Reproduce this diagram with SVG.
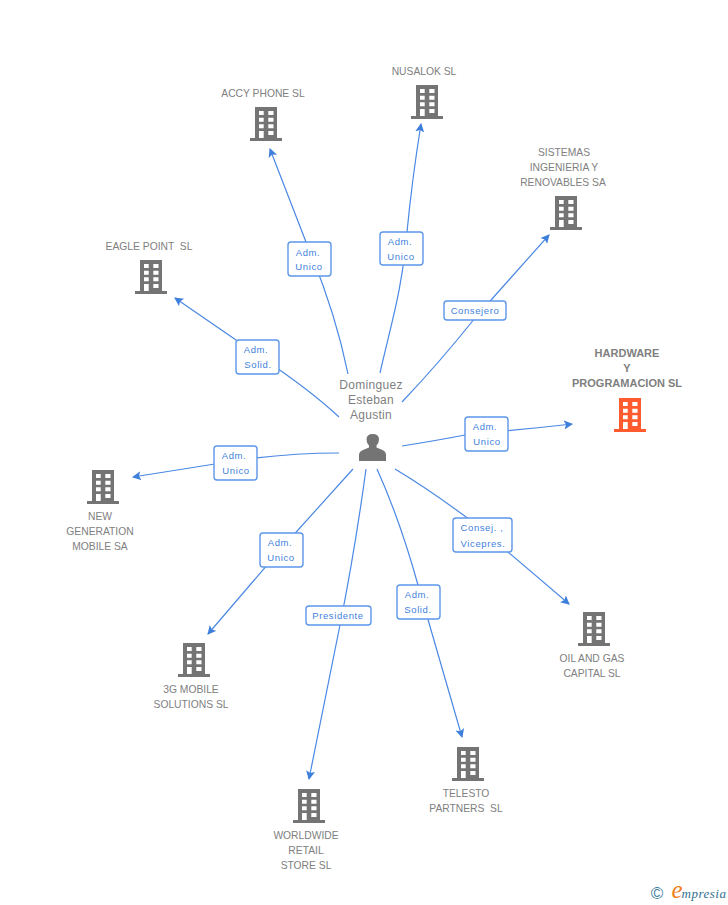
<svg xmlns="http://www.w3.org/2000/svg" width="728" height="905" viewBox="0 0 728 905">
<style>
text{font-family:"Liberation Sans",Arial,sans-serif;font-size:10.3px;fill:#808080;text-anchor:middle;white-space:pre}
.b{fill:#747474}.o{fill:#ff5b2e}
.w{fill:#fff}
.c{fill:none;stroke:#4a88e4;stroke-width:1.2;marker-end:url(#a)}
.l{fill:#fff;stroke:#5c97ea;stroke-width:1.4}
.t{fill:#3f7fdc;font-size:9.5px;letter-spacing:.6px}
.h{font-weight:bold;font-size:11px}
.p{font-size:12px;letter-spacing:.3px}
</style>
<defs>
<marker id="a" markerUnits="userSpaceOnUse" markerWidth="12" markerHeight="12" refX="8" refY="4.500" orient="auto"><path d="M0 0L9 4.500L0 9L2 4.500Z" fill="#3f7fdc"/></marker>
<g id="bld">
<path d="M-11 0H11V31H16V34H-16V31H-11Z"/>
<path class="w" d="M-7 4H-2.300V8H-7ZM2.300 4H7.500V8H2.300ZM-7 10.700H-2.300V14.700H-7ZM2.300 10.700H7.500V14.700H2.300ZM-7 17.300H-2.300V21.300H-7ZM2.300 17.300H7.500V21.300H2.300ZM-7 24H-2.300V31H-7ZM2.300 24H7.500V28H2.300Z"/>
</g>
</defs>
<g id="connectors">
<path class="c" d="M348 374Q335 310 306 242L270 149"/>
<path class="c" d="M380 373C392 320 402 290 407 232Q412 180 421 124"/>
<path class="c" d="M402 402Q440 362 475 318L549 235"/>
<path class="c" d="M402 446Q440 440 470 434Q520 430 572 424"/>
<path class="c" d="M395 469Q430 490 470 520Q520 562 569 604"/>
<path class="c" d="M377 469Q400 520 418 585L462 737"/>
<path class="c" d="M366 469Q355 550 340 625L309 779"/>
<path class="c" d="M353 469L280 550L208 634"/>
<path class="c" d="M339 453Q290 453 240 460L133 477"/>
<path class="c" d="M339 417Q310 390 265 360L175 298"/>
</g>
<g id="label-accy"><rect class="l" x="288" y="242" width="43" height="34" rx="3"/><text class="t" x="308" y="256">Adm.</text><text class="t" x="309" y="270">Unico</text></g>
<g id="label-nusalok"><rect class="l" x="380" y="232" width="43" height="33" rx="3"/><text class="t" x="400" y="245">Adm.</text><text class="t" x="401" y="260">Unico</text></g>
<g id="label-sistemas"><rect class="l" x="444" y="301" width="62" height="19" rx="3"/><text class="t" x="475" y="314">Consejero</text></g>
<g id="label-hardware"><rect class="l" x="465" y="417" width="43" height="34" rx="3"/><text class="t" x="485" y="430">Adm.</text><text class="t" x="487" y="445">Unico</text></g>
<g id="label-oil"><rect class="l" x="453" y="518" width="59" height="34" rx="3"/><text class="t" x="482" y="531">Consej. ,</text><text class="t" x="483" y="547">Vicepres.</text></g>
<g id="label-telesto"><rect class="l" x="397" y="585" width="43" height="34" rx="3"/><text class="t" x="417" y="598">Adm.</text><text class="t" x="418" y="613">Solid.</text></g>
<g id="label-worldwide"><rect class="l" x="306" y="606" width="65" height="19" rx="3"/><text class="t" x="338" y="619">Presidente</text></g>
<g id="label-3g"><rect class="l" x="260" y="533" width="43" height="34" rx="3"/><text class="t" x="280" y="546">Adm.</text><text class="t" x="281" y="561">Unico</text></g>
<g id="label-newgen"><rect class="l" x="214" y="446" width="43" height="34" rx="3"/><text class="t" x="234" y="459">Adm.</text><text class="t" x="236" y="474">Unico</text></g>
<g id="label-eagle"><rect class="l" x="236" y="340" width="43" height="34" rx="3"/><text class="t" x="256" y="353">Adm.</text><text class="t" x="258" y="368">Solid.</text></g>
<g id="person"><text class="p" x="371" y="389">Dominguez</text><text class="p" x="371" y="404">Esteban</text><text class="p" x="371" y="419">Agustin</text>
<path class="b" d="M359 461V455Q359 451.500 363 450L369 447.500V445.500Q366.500 443 366.500 439.500Q366.500 434 372.700 434Q379 434 379 439.500Q379 443 376.500 445.500V447.500L382.500 450Q386 451.500 386 455V461Z"/></g>
<g id="n-accy"><use href="#bld" class="b" x="266" y="107"/><text x="263" y="97">ACCY PHONE SL</text></g>
<g id="n-nusalok"><use href="#bld" class="b" x="427" y="85"/><text x="424" y="75">NUSALOK SL</text></g>
<g id="n-sistemas"><use href="#bld" class="b" x="566" y="196"/><text x="564" y="156">SISTEMAS</text><text x="564" y="171">INGENIERIA Y</text><text x="563" y="186">RENOVABLES SA</text></g>
<g id="n-eagle"><use href="#bld" class="b" x="151" y="260"/><text x="149" y="250">EAGLE POINT  SL</text></g>
<g id="n-hardware"><use href="#bld" class="o" x="630" y="398"/><text class="h" x="627" y="357">HARDWARE</text><text class="h" x="627" y="372">Y</text><text class="h" x="627" y="387">PROGRAMACION SL</text></g>
<g id="n-newgen"><use href="#bld" class="b" x="103" y="470"/><text x="100" y="520">NEW</text><text x="100" y="535">GENERATION</text><text x="100" y="550">MOBILE SA</text></g>
<g id="n-oil"><use href="#bld" class="b" x="594" y="612"/><text x="592" y="662">OIL AND GAS</text><text x="592" y="677">CAPITAL SL</text></g>
<g id="n-3g"><use href="#bld" class="b" x="194" y="643"/><text x="191" y="693">3G MOBILE</text><text x="191" y="708">SOLUTIONS SL</text></g>
<g id="n-worldwide"><use href="#bld" class="b" x="309" y="789"/><text x="306" y="839">WORLDWIDE</text><text x="306" y="854">RETAIL</text><text x="306" y="869">STORE SL</text></g>
<g id="n-telesto"><use href="#bld" class="b" x="468" y="747"/><text x="466" y="797">TELESTO</text><text x="466" y="812">PARTNERS  SL</text></g>
<g id="logo"><text x="657" y="899" style="font-size:17px;fill:#3f7f9f">©</text><text x="677" y="898" style="font-family:'Liberation Serif',serif;font-style:italic;font-size:25px;fill:#f08020">e</text><text x="704" y="898" style="font-family:'Liberation Serif',serif;font-style:italic;font-size:13px;fill:#2f6f8f;letter-spacing:.5px">mpresia</text></g>
</svg>
